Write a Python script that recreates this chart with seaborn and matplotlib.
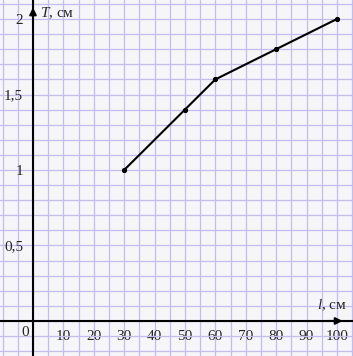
import matplotlib
matplotlib.use("Agg")
import matplotlib.pyplot as plt
from matplotlib.ticker import MultipleLocator, FixedLocator, FuncFormatter
import seaborn as sns
import pandas as pd

# Data
lengths = [30, 50, 60, 80, 100]          # l, см
periods = [1.0, 1.4, 1.6, 1.8, 2.0]      # T, см
x_ticks = [10, 20, 30, 40, 50, 60, 70, 80, 90, 100]
y_ticks = [0.5, 1.0, 1.5, 2.0]

sns.set_style("white")
plt.rcParams["font.family"] = ["Liberation Serif", "DejaVu Serif"]
plt.rcParams["mathtext.fontset"] = "custom"
plt.rcParams["mathtext.it"] = "Liberation Serif:italic"
plt.rcParams["mathtext.rm"] = "Liberation Serif"

df = pd.DataFrame({"l": lengths, "T": periods})

fig = plt.figure(figsize=(3.53, 3.56), dpi=100)
ax = fig.add_axes([0, 0, 1, 1])
ax.set_facecolor("#f6f6f8")
fig.patch.set_facecolor("#f6f6f8")

ax.set_xlim(-10.85, 105.3)
ax.set_ylim(-0.232, 2.126)

# grid paper
ax.xaxis.set_major_locator(FixedLocator(x_ticks))
ax.yaxis.set_major_locator(FixedLocator(y_ticks))
ax.xaxis.set_minor_locator(MultipleLocator(5))
ax.yaxis.set_minor_locator(MultipleLocator(0.1))
ax.grid(which="both", color="#c2bdef", linewidth=0.9, zorder=0)
ax.set_axisbelow(True)

# axes through origin
for side in ["top", "right"]:
    ax.spines[side].set_visible(False)
ax.spines["left"].set_position(("data", 0))
ax.spines["bottom"].set_position(("data", 0))
for side in ["left", "bottom"]:
    ax.spines[side].set_linewidth(1.5)
    ax.spines[side].set_color("black")
    ax.spines[side].set_zorder(3)

ax.tick_params(which="major", direction="inout", length=8, width=1.0,
               color="black", labelsize=11, pad=2.5)
ax.tick_params(axis="y", which="major", pad=3)
ax.tick_params(which="minor", length=0)
ax.yaxis.set_major_formatter(FuncFormatter(
    lambda v, p: ("%g" % v).replace(".", ",")))

# arrow heads
ax.annotate("", xy=(102.8, 0), xytext=(96, 0),
            arrowprops=dict(arrowstyle="-|>", color="black", lw=1.5,
                            mutation_scale=10), zorder=4)
ax.annotate("", xy=(0, 2.095), xytext=(0, 2.0),
            arrowprops=dict(arrowstyle="-|>", color="black", lw=1.5,
                            mutation_scale=10), zorder=4)

# data line
sns.lineplot(data=df, x="l", y="T", ax=ax, color="black", linewidth=1.5,
             marker="o", markersize=3, markeredgecolor="black", zorder=5)
ax.set_xlabel("")
ax.set_ylabel("")

# labels
ax.text(2.2, 2.04, "$T$, см", fontsize=11, ha="left", va="center")
ax.text(93.5, 0.105, "$l$, см", fontsize=11, ha="left", va="center")
ax.text(-2.6, -0.075, "0", fontsize=11, ha="center", va="center")

fig.savefig("out.png", dpi=100, facecolor=fig.get_facecolor())
